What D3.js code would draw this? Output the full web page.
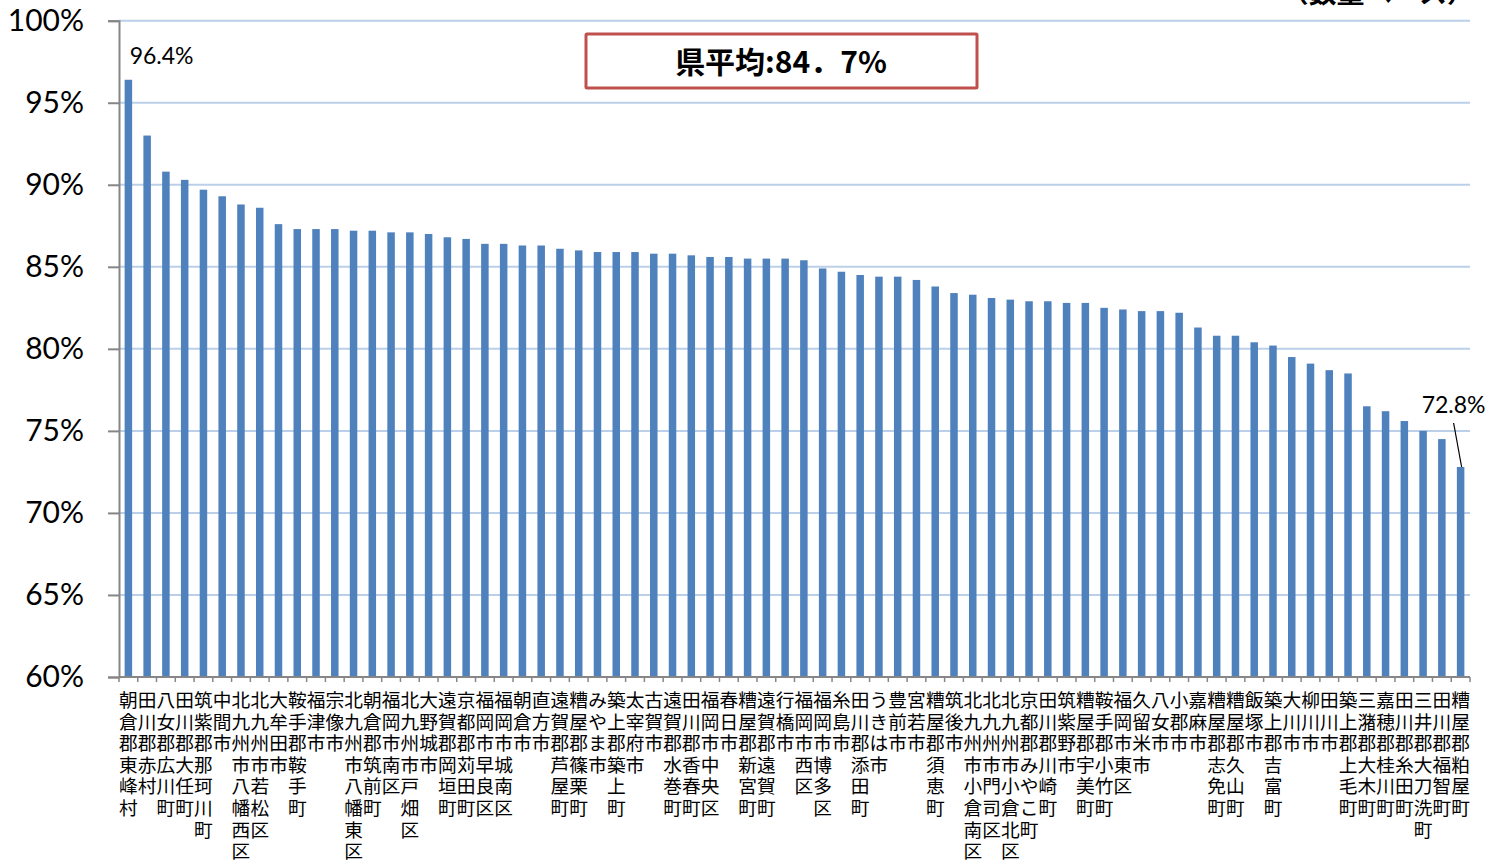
<!DOCTYPE html>
<html><head><meta charset="utf-8">
<script src="https://d3js.org/d3.v7.min.js"></script>
<style>
html,body{margin:0;padding:0;background:#fff;overflow:hidden;}
svg{display:block;}
</style></head>
<body>
<script>
const categories = [
"朝倉郡東峰村","田川郡赤村","八女郡広川町","田川郡大任町","筑紫郡那珂川町","中間市",
"北九州市八幡西区","北九州市若松区","大牟田市","鞍手郡鞍手町","福津市","宗像市",
"北九州市八幡東区","朝倉郡筑前町","福岡市南区","北九州市戸畑区","大野城市","遠賀郡岡垣町",
"京都郡苅田町","福岡市早良区","福岡市城南区","朝倉市","直方市","遠賀郡芦屋町",
"糟屋郡篠栗町","みやま市","築上郡築上町","太宰府市","古賀市","遠賀郡水巻町",
"田川郡香春町","福岡市中央区","春日市","糟屋郡新宮町","遠賀郡遠賀町","行橋市",
"福岡市西区","福岡市博多区","糸島市","田川郡添田町","うきは市","豊前市",
"宮若市","糟屋郡須恵町","筑後市","北九州市小倉南区","北九州市門司区","北九州市小倉北区",
"京都郡みやこ町","田川郡川崎町","筑紫野市","糟屋郡宇美町","鞍手郡小竹町","福岡市東区",
"久留米市","八女市","小郡市","嘉麻市","糟屋郡志免町","糟屋郡久山町",
"飯塚市","築上郡吉富町","大川市","柳川市","田川市","築上郡上毛町",
"三潴郡大木町","嘉穂郡桂川町","田川郡糸田町","三井郡大刀洗町","田川郡福智町","糟屋郡粕屋町"
];
const values = [
96.4,93.0,90.8,90.3,89.7,89.3,
88.8,88.6,87.6,87.3,87.3,87.3,
87.2,87.2,87.1,87.1,87.0,86.8,
86.7,86.4,86.4,86.3,86.3,86.1,
86.0,85.9,85.9,85.9,85.8,85.8,
85.7,85.6,85.6,85.5,85.5,85.5,
85.4,84.9,84.7,84.5,84.4,84.4,
84.2,83.8,83.4,83.3,83.1,83.0,
82.9,82.9,82.8,82.8,82.5,82.4,
82.3,82.3,82.2,81.3,80.8,80.8,
80.4,80.2,79.5,79.1,78.7,78.5,
76.5,76.2,75.6,75.0,74.5,72.8
];
const yTicks = [60,65,70,75,80,85,90,95,100];
const yTickLabels = ["60%","65%","70%","75%","80%","85%","90%","95%","100%"];
const averageLabel = "県平均:84．7%";
const unitLabel = "（数量ベース）";
const highlightIdx = [0, 71];

const W = 1503, H = 863;
const svg = d3.select("body").append("svg").attr("width", W).attr("height", H);

const pLeft = 119, pRight = 1470, pTop = 20.7, pBottom = 677;
const x = d3.scaleBand().domain(categories).range([pLeft, pRight]).paddingInner(0.6).paddingOuter(0.3);
const xb = d3.scaleBand().domain(categories).range([pLeft, pRight]);
const y = d3.scaleLinear().domain([60, 100]).range([pBottom, pTop]);

// gridlines
svg.append("g").selectAll("line").data(yTicks.filter(d => d > 60)).join("line")
  .attr("x1", pLeft).attr("x2", pRight)
  .attr("y1", d => y(d)).attr("y2", d => y(d))
  .attr("stroke", "#BCCFE8").attr("stroke-width", 2);

// bars
svg.append("g").selectAll("rect").data(values).join("rect")
  .attr("x", (d, i) => x(categories[i]))
  .attr("width", x.bandwidth())
  .attr("y", d => y(d))
  .attr("height", d => y(60) - y(d))
  .attr("fill", "#4F81BD");

// y axis
const yAxis = d3.axisLeft(y).tickValues(yTicks).tickFormat((d, i) => yTickLabels[i]).tickSize(11).tickPadding(24);
const ga = svg.append("g").attr("transform", `translate(${pLeft},0)`).call(yAxis);
ga.select(".domain").attr("stroke", "#868686").attr("stroke-width", 2);
ga.selectAll(".tick line").attr("stroke", "#868686").attr("stroke-width", 2);
ga.selectAll(".tick text").attr("font-family", "Lato, 'Open Sans', sans-serif").attr("font-size", 30).attr("fill", "#000");

// x axis line and ticks at band boundaries
svg.append("line").attr("x1", pLeft).attr("x2", pRight).attr("y1", pBottom).attr("y2", pBottom)
  .attr("stroke", "#868686").attr("stroke-width", 2);
svg.append("g").selectAll("line").data(categories.concat(["__end"])).join("line")
  .attr("x1", (d, i) => i < categories.length ? xb(d) : pRight)
  .attr("x2", (d, i) => i < categories.length ? xb(d) : pRight)
  .attr("y1", pBottom).attr("y2", pBottom + 5)
  .attr("stroke", "#868686").attr("stroke-width", 1.5);

// category labels: vertical stacked characters
const lab = svg.append("g").attr("font-family", "'Noto Sans CJK JP', sans-serif").attr("font-size", 18.7).attr("fill", "#000");
categories.forEach((c, i) => {
  const cx = xb(c) + xb.bandwidth() / 2;
  const t = lab.append("text").attr("text-anchor", "middle");
  Array.from(c).forEach((ch, k) => {
    t.append("tspan").attr("x", cx).attr("y", 707 + k * 21.6).text(ch);
  });
});

// data labels
const first = highlightIdx[0], last = highlightIdx[1];
svg.append("text").attr("x", x(categories[first]) + 5).attr("y", y(values[first]) - 16)
  .attr("font-family", "Lato, 'Open Sans', sans-serif").attr("font-size", 23).attr("fill", "#000")
  .text(values[first].toFixed(1) + "%");
const lcx = x(categories[last]) + x.bandwidth() / 2;
svg.append("text").attr("x", lcx - 7).attr("y", y(values[last]) - 54)
  .attr("text-anchor", "middle")
  .attr("font-family", "Lato, 'Open Sans', sans-serif").attr("font-size", 23).attr("fill", "#000")
  .text(values[last].toFixed(1) + "%");
svg.append("line").attr("x1", lcx - 7).attr("y1", y(values[last]) - 44)
  .attr("x2", lcx + 1).attr("y2", y(values[last]))
  .attr("stroke", "#000").attr("stroke-width", 1.2);

// average box
svg.append("rect").attr("x", 586).attr("y", 34).attr("width", 391).attr("height", 54)
  .attr("fill", "#fff").attr("stroke", "#C0504D").attr("stroke-width", 3).attr("rx", 1);
svg.append("text").attr("x", 781).attr("y", 73).attr("text-anchor", "middle")
  .attr("font-family", "'Noto Sans CJK JP', sans-serif").attr("font-weight", "bold")
  .attr("font-size", 30).attr("fill", "#000").text(averageLabel);

// clipped unit label at top right
svg.append("text").attr("x", 1475).attr("y", 3).attr("text-anchor", "end")
  .attr("font-family", "'Noto Sans CJK JP', sans-serif").attr("font-weight", "bold")
  .attr("font-size", 28).attr("fill", "#000").text(unitLabel);
</script>
</body></html>
